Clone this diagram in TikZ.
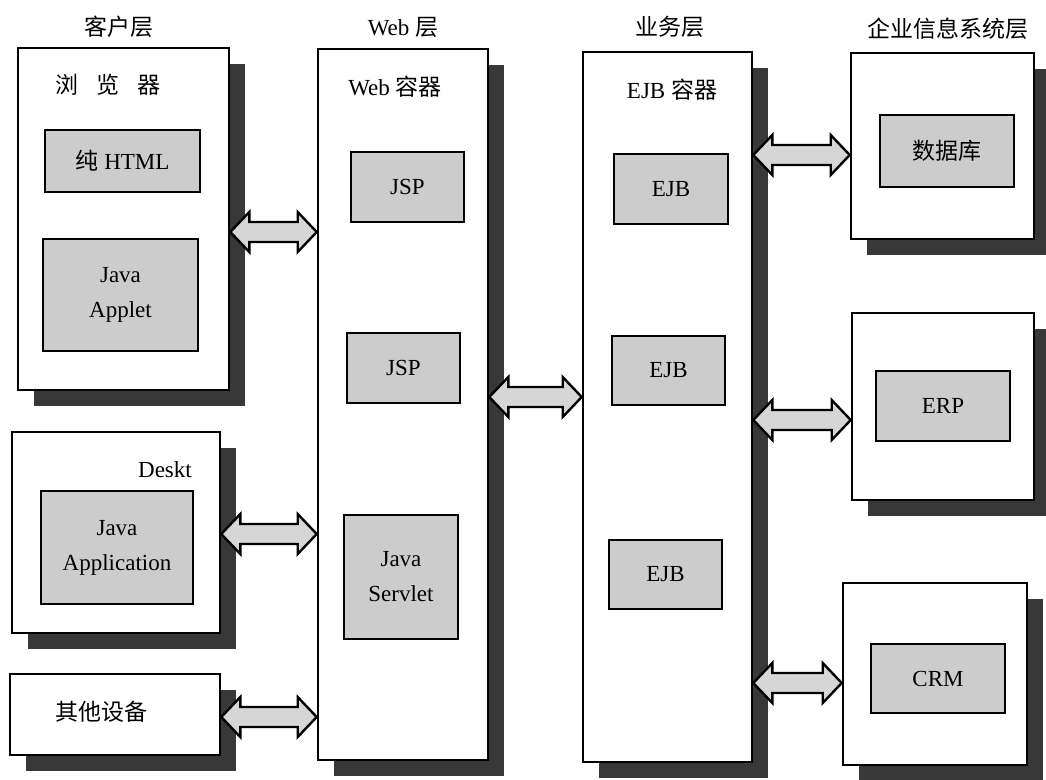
\documentclass[tikz,border=0pt]{standalone}
\usepackage{fontspec}
\setmainfont{Liberation Serif}
\newfontfamily\cjk{Noto Sans CJK SC}
\usetikzlibrary{shadows, calc}

% hollow double-headed block arrow between two boxes at height #3
\newcommand\dblarrow[3]{%
  \coordinate (l) at (#1.east |- 0,#3);
  \coordinate (r) at (#2.west |- 0,#3);
  \draw[blockarrow] (l) -- ++(19,-20) -- ++(0,10) -- ($(r)+(-19,-10)$) -- ++(0,-10) -- (r)
    -- ++(-19,20) -- ++(0,-10) -- ($(l)+(19,10)$) -- ++(0,10) -- cycle;}

\begin{document}
\begin{tikzpicture}[x=1pt, y=-1pt, font=\fontsize{23}{35}\selectfont,
    layerbox/.style={draw, fill=white, line width=2.6pt, inner sep=0pt,
      general shadow={fill=black!78, shadow xshift=16pt, shadow yshift=-16pt}},
    compbox/.style={draw, fill=black!20, line width=2.4pt, inner sep=0pt, align=center},
    blockarrow/.style={draw, fill=black!16, line width=2.4pt, line join=miter}]
  \useasboundingbox (0,0) rectangle (1046,779);

  % tier headers
  \node (hclient) at (119,27) {\cjk 客户层};
  \node (hweb) at (403,27) {Web {\cjk 层}};
  \node (hbiz) at (670,27) {\cjk 业务层};
  \node (heis) at (948,29) {\cjk 企业信息系统层};

  % client tier
  \node[layerbox, minimum width=211pt, minimum height=342pt] (browser) at (123.5,219) {};
  \node (browsertitle) at (108,85) {\cjk 浏\hspace{0.8em}览\hspace{0.8em}器};
  \node[compbox, minimum width=155pt, minimum height=62pt] (html) at (122.5,161) {{\cjk 纯} HTML};
  \node[compbox, minimum width=155pt, minimum height=112pt] (applet) at (120.5,295) {Java\\Applet};

  \node[layerbox, minimum width=208pt, minimum height=201pt] (desktop) at (116,532.5) {};
  \node (desktoptitle) at (165,470) {Deskt};
  \node[compbox, minimum width=152pt, minimum height=113pt] (app) at (117,547.5) {Java\\Application};

  \node[layerbox, minimum width=210pt, minimum height=81pt] (other) at (115,714.5) {};
  \node (othertitle) at (101,712) {\cjk 其他设备};

  % web tier
  \node[layerbox, minimum width=170pt, minimum height=711pt] (web) at (403,404.5) {};
  \node (webtitle) at (395,87) {Web {\cjk 容器}};
  \node[compbox, minimum width=113pt, minimum height=70pt] (jspa) at (407.5,187) {JSP};
  \node[compbox, minimum width=113pt, minimum height=70pt] (jspb) at (403.5,368) {JSP};
  \node[compbox, minimum width=114pt, minimum height=124pt] (servlet) at (401,577) {Java\\Servlet};

  % business tier
  \node[layerbox, minimum width=169pt, minimum height=710pt] (ejbbox) at (667.5,407) {};
  \node (ejbtitle) at (672,90) {EJB {\cjk 容器}};
  \node[compbox, minimum width=114pt, minimum height=70pt] (ejba) at (671,189) {EJB};
  \node[compbox, minimum width=113pt, minimum height=69pt] (ejbb) at (668.5,370.5) {EJB};
  \node[compbox, minimum width=113pt, minimum height=69pt] (ejbc) at (665.5,574.5) {EJB};

  % enterprise information system tier
  \node[layerbox, minimum width=183pt, minimum height=186pt] (db) at (942.5,146) {};
  \node[compbox, minimum width=134pt, minimum height=72pt] (dbin) at (947,151) {\cjk 数据库};
  \node[layerbox, minimum width=182pt, minimum height=187pt] (erp) at (943,406.5) {};
  \node[compbox, minimum width=134pt, minimum height=70pt] (erpin) at (943,406) {ERP};
  \node[layerbox, minimum width=184pt, minimum height=182pt] (crm) at (935,674) {};
  \node[compbox, minimum width=134pt, minimum height=69pt] (crmin) at (938,678.5) {CRM};

  % connections
  \dblarrow{browser}{web}{232}
  \dblarrow{desktop}{web}{534}
  \dblarrow{other}{web}{717}
  \dblarrow{web}{ejbbox}{397}
  \dblarrow{ejbbox}{db}{155}
  \dblarrow{ejbbox}{erp}{420}
  \dblarrow{ejbbox}{crm}{683}
\end{tikzpicture}
\end{document}
